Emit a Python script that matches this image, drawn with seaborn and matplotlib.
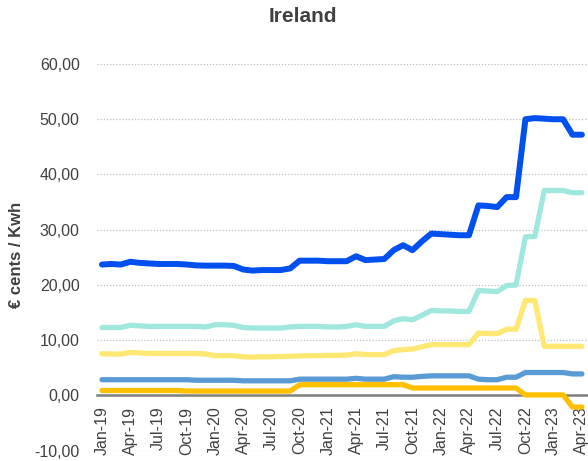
import pandas as pd
import matplotlib.pyplot as plt
import seaborn as sns

# Monthly values, Jan-19 .. Apr-23
months = pd.date_range("2019-01-01", "2023-04-01", freq="MS").strftime("%b-%y").tolist()

total = [23.7, 23.8, 23.7, 24.2, 24.0, 23.9, 23.8, 23.8, 23.8, 23.7, 23.55, 23.5,
         23.5, 23.5, 23.45, 22.8, 22.6, 22.7, 22.7, 22.7, 23.0, 24.4, 24.4, 24.4,
         24.3, 24.3, 24.3, 25.2, 24.5, 24.6, 24.7, 26.3, 27.2, 26.3, 27.9, 29.3,
         29.2, 29.1, 29.0, 29.0, 34.4, 34.3, 34.1, 35.9, 35.9, 50.0, 50.2, 50.1,
         50.0, 50.0, 47.2, 47.2]
teal = [12.3, 12.3, 12.3, 12.7, 12.6, 12.5, 12.5, 12.5, 12.5, 12.5, 12.5, 12.4,
        12.8, 12.8, 12.7, 12.3, 12.2, 12.2, 12.2, 12.2, 12.4, 12.5, 12.5, 12.5,
        12.4, 12.4, 12.5, 12.8, 12.5, 12.5, 12.5, 13.5, 13.9, 13.7, 14.5, 15.4,
        15.3, 15.3, 15.2, 15.2, 19.0, 18.9, 18.8, 19.9, 20.0, 28.7, 28.8, 37.1,
        37.1, 37.1, 36.7, 36.7]
yellow = [7.55, 7.5, 7.5, 7.8, 7.7, 7.6, 7.6, 7.6, 7.6, 7.6, 7.6, 7.5,
          7.2, 7.2, 7.2, 7.0, 6.95, 7.0, 7.0, 7.05, 7.1, 7.15, 7.2, 7.2,
          7.25, 7.25, 7.3, 7.55, 7.4, 7.4, 7.4, 8.1, 8.3, 8.4, 8.8, 9.2,
          9.2, 9.2, 9.2, 9.2, 11.3, 11.2, 11.2, 12.0, 12.0, 17.2, 17.2, 8.9,
          8.9, 8.9, 8.9, 8.9]
steel = [2.85, 2.85, 2.85, 2.85, 2.85, 2.85, 2.85, 2.85, 2.85, 2.85, 2.75, 2.75,
         2.75, 2.75, 2.75, 2.65, 2.65, 2.65, 2.65, 2.65, 2.65, 2.95, 2.95, 2.95,
         2.95, 2.95, 2.95, 3.1, 2.95, 2.95, 2.95, 3.4, 3.3, 3.3, 3.45, 3.55,
         3.55, 3.55, 3.55, 3.55, 2.95, 2.85, 2.85, 3.3, 3.3, 4.15, 4.15, 4.15,
         4.15, 4.15, 3.9, 3.9]
gold = [0.9, 0.9, 0.9, 0.9, 0.9, 0.9, 0.9, 0.9, 0.9, 0.8, 0.8, 0.8,
        0.8, 0.8, 0.8, 0.8, 0.8, 0.8, 0.8, 0.8, 0.8, 1.95, 1.95, 1.95,
        1.95, 1.95, 1.95, 1.95, 1.95, 1.95, 1.95, 1.95, 1.95, 1.35, 1.35, 1.35,
        1.35, 1.35, 1.35, 1.35, 1.35, 1.35, 1.35, 1.35, 1.35, 0.1, 0.1, 0.1,
        0.1, 0.1, -2.1, -2.1]

series = {"gold": gold, "steel": steel, "yellow": yellow, "teal": teal, "total": total}
colors = {"gold": "#FFC000", "steel": "#5B9BD5", "yellow": "#FFE873",
          "teal": "#A0E8DE", "total": "#0050EF"}

# long-form table for seaborn
df = pd.DataFrame(
    [(i, name, v) for name, vals in series.items() for i, v in enumerate(vals)],
    columns=["month", "series", "value"],
)

sns.set_style("white")
plt.rcParams["font.family"] = ["Liberation Sans", "DejaVu Sans"]

fig = plt.figure(figsize=(5.88, 4.61), dpi=100)
ax = fig.add_axes([97 / 588, 10.3 / 461, 491 / 588, 386.7 / 461])

sns.lineplot(data=df, x="month", y="value", hue="series", palette=colors,
             linewidth=3.8, legend=False, ax=ax,
             solid_capstyle="round", solid_joinstyle="round")
ax.lines[-1].set_linewidth(4.3)

# spines first: moving the spine resets the ticks
for s in ["top", "right", "left"]:
    ax.spines[s].set_visible(False)
ax.spines["bottom"].set_position(("data", 0))
ax.spines["bottom"].set_color("#7F7F7F")
ax.spines["bottom"].set_linewidth(1.8)
ax.spines["bottom"].set_zorder(1)

ax.set_ylim(-10, 60)
ax.set_xlim(-0.53, 51.65)
ax.set_yticks(range(-10, 61, 10))
ax.set_yticklabels([f"{v:.2f}".replace(".", ",") for v in range(-10, 61, 10)])
ax.set_xticks(range(0, 52, 3))
ax.set_xticklabels(months[::3])

# dotted gridlines
ax.grid(axis="y", linestyle=(0, (1, 1.5)), color="#BFBFBF", linewidth=0.9)
ax.grid(axis="x", visible=False)

ax.tick_params(axis="y", length=0, pad=12.5, labelsize=11.5, labelcolor="#404040")
ax.tick_params(axis="x", length=0, pad=8, labelsize=11.5, labelcolor="#404040",
               labelrotation=90)

ax.set_xlabel("")
ax.set_ylabel("")
fig.text(17 / 588, 1 - 255 / 461, "€ cents / Kwh", rotation=90, ha="center",
         va="center", fontsize=12, fontweight="bold", color="#404040")
fig.text(303 / 588, 1 - 17 / 461, "Ireland", ha="center", va="center",
         fontsize=15, fontweight="bold", color="#404040")

fig.savefig("out.png", dpi=100)
